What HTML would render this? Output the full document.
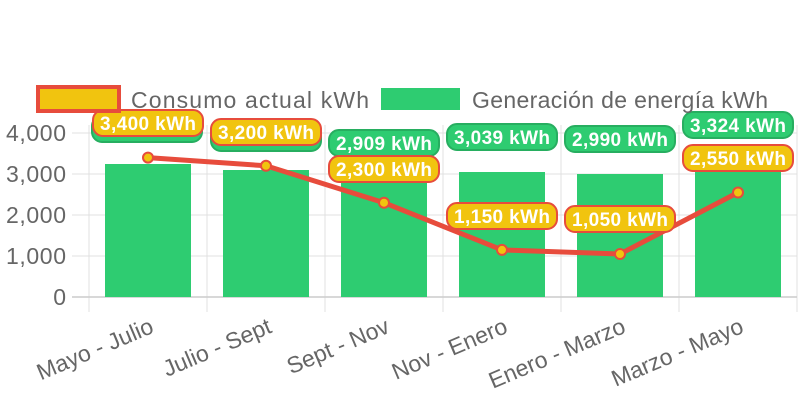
<!DOCTYPE html><html><head><style>body{margin:0;background:#fff}svg{display:block;font-family:"Liberation Sans",sans-serif}</style></head><body>
<svg width="808" height="404" viewBox="0 0 808 404">
<g stroke="#e0e0e0" stroke-width="1">
<line x1="72" y1="133" x2="797" y2="133"/><line x1="72" y1="174" x2="797" y2="174"/><line x1="72" y1="215" x2="797" y2="215"/><line x1="72" y1="256" x2="797" y2="256"/>
<line x1="89" y1="125" x2="89" y2="312"/><line x1="207" y1="125" x2="207" y2="312"/><line x1="325" y1="125" x2="325" y2="312"/><line x1="443" y1="125" x2="443" y2="312"/><line x1="561" y1="125" x2="561" y2="312"/><line x1="679" y1="125" x2="679" y2="312"/><line x1="797" y1="125" x2="797" y2="312"/>
</g>
<line x1="72" y1="297" x2="797" y2="297" stroke="#ccc" stroke-width="1.5"/>
<g fill="#666" font-size="23" text-anchor="end">
<text x="66" y="141" textLength="60">4,000</text><text x="66" y="182" textLength="60">3,000</text><text x="66" y="223" textLength="60">2,000</text><text x="66" y="264" textLength="60">1,000</text><text x="66" y="305">0</text>
</g>
<g fill="#2ecc71">
<rect x="105" y="164" width="86" height="133"/><rect x="223" y="170" width="86" height="127"/><rect x="341" y="178" width="86" height="119"/><rect x="459" y="172" width="86" height="125"/><rect x="577" y="174" width="86" height="123"/><rect x="695" y="161" width="86" height="136"/>
</g>
<polyline points="148,157.6 266,165.8 384,202.7 502,249.9 620,254 738,192.5" fill="none" stroke="#e74c3c" stroke-width="5" stroke-linejoin="round"/>
<g fill="#f1c40f" stroke="#e74c3c" stroke-width="2">
<circle cx="148" cy="157.6" r="5"/><circle cx="266" cy="165.8" r="5"/><circle cx="384" cy="202.7" r="5"/><circle cx="502" cy="249.9" r="5"/><circle cx="620" cy="254" r="5"/><circle cx="738" cy="192.5" r="5"/>
</g>
<g font-size="19" font-weight="bold" fill="#fff" text-anchor="middle">
<rect x="92" y="116" width="110" height="26" rx="10" fill="#2ecc71" stroke="#27ae60" stroke-width="2"/>
<rect x="211" y="125" width="110" height="26" rx="10" fill="#2ecc71" stroke="#27ae60" stroke-width="2"/>
<rect x="329" y="130" width="110" height="26" rx="10" fill="#2ecc71" stroke="#27ae60" stroke-width="2"/><text x="384" y="150" textLength="96">2,909 kWh</text>
<rect x="447" y="124" width="110" height="26" rx="10" fill="#2ecc71" stroke="#27ae60" stroke-width="2"/><text x="502" y="144" textLength="96">3,039 kWh</text>
<rect x="565" y="126" width="110" height="26" rx="10" fill="#2ecc71" stroke="#27ae60" stroke-width="2"/><text x="620" y="146" textLength="96">2,990 kWh</text>
<rect x="683" y="112" width="110" height="26" rx="10" fill="#2ecc71" stroke="#27ae60" stroke-width="2"/><text x="738" y="132" textLength="96">3,324 kWh</text>
<rect x="93" y="110" width="110" height="26" rx="10" fill="#f1c40f" stroke="#e74c3c" stroke-width="2"/><text x="148" y="130" textLength="96">3,400 kWh</text>
<rect x="211" y="119" width="110" height="26" rx="10" fill="#f1c40f" stroke="#e74c3c" stroke-width="2"/><text x="266" y="139" textLength="96">3,200 kWh</text>
<rect x="329" y="156" width="110" height="26" rx="10" fill="#f1c40f" stroke="#e74c3c" stroke-width="2"/><text x="384" y="176" textLength="96">2,300 kWh</text>
<rect x="447" y="203" width="110" height="26" rx="10" fill="#f1c40f" stroke="#e74c3c" stroke-width="2"/><text x="502" y="223" textLength="96">1,150 kWh</text>
<rect x="565" y="206" width="110" height="26" rx="10" fill="#f1c40f" stroke="#e74c3c" stroke-width="2"/><text x="620" y="226" textLength="96">1,050 kWh</text>
<rect x="683" y="145" width="110" height="26" rx="10" fill="#f1c40f" stroke="#e74c3c" stroke-width="2"/><text x="738" y="165" textLength="96">2,550 kWh</text>
</g>
<rect x="38" y="87" width="81" height="24" fill="#f1c40f" stroke="#e74c3c" stroke-width="4"/>
<text x="131" y="108" font-size="23" fill="#666" textLength="238">Consumo actual kWh</text>
<rect x="381" y="88" width="79" height="22" fill="#2ecc71"/>
<text x="472" y="108" font-size="23" fill="#666" textLength="296">Generación de energía kWh</text>
<g fill="#666" font-size="23" text-anchor="end">
<text transform="translate(155,332) rotate(-23)">Mayo - Julio</text>
<text transform="translate(273,332) rotate(-23)">Julio - Sept</text>
<text transform="translate(391,332) rotate(-23)">Sept - Nov</text>
<text transform="translate(509,332) rotate(-23)">Nov - Enero</text>
<text transform="translate(627,332) rotate(-23)">Enero - Marzo</text>
<text transform="translate(745,332) rotate(-23)">Marzo - Mayo</text>
</g>
</svg></body></html>
